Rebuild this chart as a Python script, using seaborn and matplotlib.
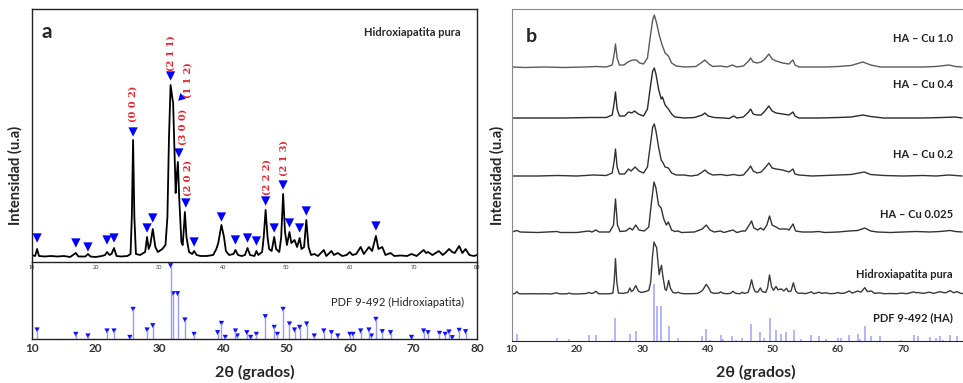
import matplotlib
matplotlib.use("Agg")
import matplotlib.pyplot as plt
import seaborn as sns

# patron DRX hidroxiapatita pura (2theta, intensidad)
ha_pts = [(10.0, 2), (10.5, 1), (10.8, 8), (11.1, 1), (12, 0.5), (13, 1), (14, 0.5), (15, 1), (16, 0),
          (16.9, 4), (17.3, 0.5), (18.4, 0.5), (18.8, 3), (19.2, 0.5), (20, 0), (21, 1), (21.5, 2),
          (21.8, 5), (22.2, 2), (22.5, 3), (22.9, 9), (23.3, 1), (24, 0.5), (25, 1), (25.5, 3),
          (25.7, 40), (25.9, 117), (26.1, 40), (26.35, 3), (27, 2), (27.8, 5), (28.1, 20), (28.35, 8),
          (28.6, 12), (29.0, 28), (29.4, 10), (29.8, 5), (30.5, 8), (31.0, 12), (31.3, 40), (31.55, 120),
          (31.8, 172), (32.05, 160), (32.2, 154), (32.45, 100), (32.6, 64), (32.75, 80), (32.95, 95),
          (33.15, 60), (33.5, 15), (33.7, 12), (33.85, 25), (34.05, 45), (34.3, 20), (34.7, 5), (35.2, 3),
          (35.5, 6), (35.9, 2), (36.5, 1), (37.5, 1), (38.5, 2), (39.0, 8), (39.3, 14), (39.8, 32),
          (40.2, 20), (40.5, 6), (41, 2), (41.7, 3), (42.0, 7), (42.4, 2), (43, 1), (43.5, 2), (43.9, 9),
          (44.3, 2), (45.0, 1), (45.3, 6), (45.6, 2), (46.2, 5), (46.45, 20), (46.75, 47), (47.05, 20),
          (47.3, 8), (47.7, 6), (48.1, 20), (48.4, 8), (48.9, 5), (49.2, 20), (49.5, 63), (49.8, 25),
          (50.1, 12), (50.5, 25), (50.8, 14), (51.3, 17), (51.7, 10), (52.1, 19), (52.4, 8), (52.8, 10),
          (53.15, 37), (53.5, 10), (53.9, 2), (54.4, 3), (55.0, 1), (55.9, 7), (56.3, 1), (57.1, 6),
          (57.5, 2), (58.1, 4), (58.8, 1), (59.5, 2), (60.0, 5), (60.4, 2), (61.0, 3), (61.7, 10),
          (62.2, 3), (63.0, 10), (63.5, 6), (64.1, 21), (64.5, 8), (65.1, 10), (65.6, 2), (66.4, 4),
          (67, 1), (68, 1.5), (69, 1), (69.7, 3), (70.5, 1), (71.6, 7), (72.0, 4), (72.3, 5), (73, 2),
          (74, 6), (74.6, 2), (75.0, 4), (75.6, 8), (76.1, 5), (76.5, 4), (77.2, 11), (77.7, 4),
          (78.2, 8), (78.8, 2), (79.5, 1), (80, 2)]

cu025_pts = [(10, 1), (10.8, 2.5), (11.3, 1), (14, 0.5), (16.9, 1.5), (17.5, 0.5), (20, 0.5), (21.8, 2),
             (22.3, 1), (22.9, 3), (23.4, 1), (25, 1), (25.6, 8), (25.9, 34), (26.2, 8), (26.6, 1.5),
             (27.5, 2), (28.1, 5), (28.5, 3), (29.0, 8), (29.5, 3), (30.3, 2), (31.0, 6), (31.4, 30),
             (31.8, 51), (32.1, 45), (32.5, 28), (32.9, 25), (33.3, 14), (33.7, 8), (34.0, 11), (34.5, 3),
             (35, 1.5), (35.5, 2), (36, 0.5), (38, 1), (39.2, 4), (39.8, 8), (40.4, 3), (41, 1), (42, 2),
             (42.5, 0.5), (43.9, 3), (44.5, 0.5), (45.3, 2), (45.8, 2), (46.4, 8), (46.75, 12), (47.1, 5),
             (47.7, 3), (48.1, 5), (48.6, 3), (49.1, 8), (49.5, 17), (49.9, 8), (50.5, 6), (51.0, 4),
             (51.3, 4), (51.8, 4), (52.1, 4), (52.5, 3), (53.1, 9), (53.5, 2), (54.5, 1), (56, 1),
             (57, 1.5), (58, 0.5), (60, 1), (61.7, 2), (63, 2.5), (64.1, 5), (65, 2), (66, 1), (68, 0.5),
             (70, 1), (72, 1.5), (74, 1), (75.6, 1.5), (77.2, 2.5), (78, 1.5), (79, 1)]

cu02_pts = [(10, 1), (14, 1), (17, 1.5), (20, 1), (22.5, 2), (24.5, 1.5), (25.4, 4), (25.7, 16), (25.9, 28),
            (26.15, 10), (26.5, 3), (27.3, 3), (27.9, 8), (28.3, 6), (28.9, 10), (29.5, 6), (30.2, 4),
            (30.8, 10), (31.2, 30), (31.6, 50), (31.85, 53), (32.1, 46), (32.5, 30), (32.9, 17), (33.2, 14),
            (33.5, 10), (34.0, 9), (34.5, 4), (35.2, 2), (36.3, 2), (37.5, 1), (38.5, 2), (39.2, 5),
            (39.6, 7), (40.1, 4), (40.8, 2), (42, 2.5), (43, 1.5), (44, 2.5), (44.8, 1.5), (45.5, 2),
            (46.3, 8), (46.6, 11), (47.0, 6), (47.6, 4), (48.2, 5), (48.8, 9), (49.4, 14), (49.9, 9),
            (50.5, 8), (51.5, 7), (52.5, 5), (52.9, 7), (53.1, 8), (53.4, 3), (54, 2), (56, 1), (58, 1.5),
            (60, 2), (62, 2.5), (64, 5), (65, 2.5), (67, 1.5), (70, 1), (73, 1.5), (75, 1), (77, 2), (79, 1)]

cu04_pts = [(10, 1), (14, 1), (18, 1), (22, 1.5), (24.5, 1.5), (25.4, 4), (25.7, 16), (25.9, 27), (26.15, 10),
            (26.5, 3), (27.3, 3), (27.9, 7), (28.4, 6), (28.8, 8), (29.4, 5), (30.2, 3), (30.8, 10),
            (31.2, 30), (31.6, 48), (31.85, 51), (32.1, 45), (32.5, 30), (32.9, 20), (33.1, 22), (33.5, 14),
            (34.0, 10), (34.5, 5), (35, 2), (36.5, 1), (38, 1.5), (39.2, 4), (39.6, 6), (40.1, 3), (41, 1.5),
            (42.5, 1), (43.3, 0.5), (44, 3), (44.5, 1), (45.5, 2), (46.3, 7), (46.6, 10), (47.0, 5),
            (47.6, 4), (48.2, 4), (48.8, 8), (49.4, 13), (49.9, 8), (50.5, 6), (51.5, 5), (52.5, 4),
            (52.9, 6), (53.1, 7), (53.4, 3), (54, 1), (57, 1), (60, 1.5), (62, 2), (63.8, 4), (65, 2.5),
            (67, 1), (70, 1), (73, 1), (76, 1.5), (78, 2), (79, 1)]

cu10_pts = [(10, 1), (12, 0.5), (15, 1), (18, 0.5), (21, 1), (23, 1.5), (24.5, 1), (25.4, 3), (25.7, 14),
            (25.9, 24), (26.15, 10), (26.5, 3), (27.2, 3), (27.8, 6), (28.5, 8), (29.1, 8), (29.6, 5),
            (30.2, 4), (30.8, 10), (31.2, 30), (31.6, 48), (31.85, 53), (32.2, 45), (32.6, 33), (33.0, 24),
            (33.5, 15), (34.0, 12), (34.5, 5), (35.2, 2), (36.5, 1), (38.2, 1.5), (39.0, 5), (39.6, 8),
            (40.2, 4), (40.8, 1.5), (42, 2), (43, 1), (43.8, 3), (44.5, 1), (45.5, 2), (46.3, 7), (46.6, 10),
            (47.0, 6), (47.6, 5), (48.2, 6), (48.8, 9), (49.4, 14), (49.9, 9), (50.5, 7), (51.5, 5),
            (52.5, 4), (52.9, 7), (53.1, 8), (53.4, 3), (54, 1), (56, 1), (58, 1), (60, 1.5), (62, 2.5),
            (63.8, 6), (65, 3), (66.5, 1), (68, 1), (70, 1), (73, 1), (75, 1.5), (77, 3), (78, 1.5), (79, 1)]

# PDF 9-492 lineas de referencia
pdf_pos = [10.8, 16.9, 18.8, 21.8, 22.9, 25.4, 25.9, 28.1, 29.0, 31.8, 32.2, 32.9, 34.05, 35.5, 39.2,
           39.8, 40.4, 42.0, 42.3, 43.8, 44.4, 45.3, 46.7, 48.1, 48.6, 49.5, 50.5, 51.3, 52.1, 53.2,
           54.4, 55.9, 57.1, 58.1, 60.0, 60.5, 61.7, 63.0, 63.4, 64.1, 65.1, 66.4, 69.7, 71.6, 72.3,
           74.1, 75.0, 75.6, 76.1, 77.2, 78.2]
pdf_int = [8.7, 4.3, 2.7, 7.7, 7.7, 1.3, 29.3, 8.7, 13, 73, 45, 45, 18.7, 4.3, 6, 15.3, 1.3, 7.7, 2.7, 6,
           1.3, 4.3, 22, 11.3, 4.3, 29.3, 14.7, 8.7, 11.3, 14.7, 2.7, 7.7, 6, 2.7, 4.3, 4.3, 7.7, 8.7,
           2.7, 19.3, 7, 6, 1.3, 7.7, 6, 5.3, 4.3, 6.7, 1, 8.3, 7]

# triangulos azules sobre los picos (panel a)
mark_x = [10.8, 16.9, 18.8, 21.8, 22.9, 25.9, 28.1, 29.0, 31.8, 33.1, 34.2, 35.5, 39.8, 42.0, 43.9,
          45.3, 46.75, 48.1, 49.5, 50.5, 52.1, 53.15, 64.1]
mark_y = [19, 14, 10, 17, 19, 125, 29, 39, 181, 104, 54, 15, 40, 17, 19, 16, 56, 29, 72, 34, 29, 46, 31]

hkl_text = ["(0 0 2)", "(2 1 1)", "(1 1 2)", "(3 0 0)", "(2 0 2)", "(2 2 2)", "(2 1 3)"]
hkl_x = [25.9, 31.85, 34.5, 33.7, 34.5, 46.9, 49.6]
hkl_y = [153, 204, 177, 130, 79, 80, 99]

b_labels = ["HA \u2013 Cu 1.0", "HA \u2013 Cu 0.4", "HA \u2013 Cu 0.2", "HA \u2013 Cu 0.025",
            "Hidroxiapatita pura", "PDF 9-492 (HA)"]

sns.set_style("white")
plt.rcParams['font.family'] = ['Lato', 'DejaVu Sans']

W, H = 963, 383
fig = plt.figure(figsize=(W / 100, H / 100), dpi=100)


def box(l, t, r, b):
    return [l / W, (H - b) / H, (r - l) / W, (b - t) / H]


ax2 = fig.add_axes(box(32, 262, 477, 338.7))
ax1 = fig.add_axes(box(32, 9, 477, 262))
ax3 = fig.add_axes(box(511.7, 9, 1000, 341))
ax1.patch.set_alpha(0)

ha_x = [p[0] for p in ha_pts]
ha_y = [p[1] for p in ha_pts]

# ---- panel a, arriba
sns.lineplot(x=ha_x, y=ha_y, ax=ax1, color='black', lw=1.3, sort=False)
sns.scatterplot(x=mark_x, y=mark_y, ax=ax1, marker='v', s=45, color='#0000ff', edgecolor='none')
ax1.scatter([33.45], [160], marker=(3, 0, 135), s=45, color='#0000ff', linewidths=0)
for t, x, y in zip(hkl_text, hkl_x, hkl_y):
    ax1.text(x, y, t, rotation=90, ha='center', va='center', color='#e8202a', fontsize=7,
             fontweight='bold', family='DejaVu Serif')
ax1.set_xlim(10, 80)
ax1.set_ylim(-5, 248)
ax1.set_yticks([])
ax1.set_xticks(range(10, 81, 10))
ax1.set_xticks(range(15, 80, 10), minor=True)
ax1.tick_params(axis='x', which='both', direction='in', length=2, labelsize=4, pad=2, colors='#333333')
ax1.text(11.5, 225, "a", fontsize=15, fontweight='bold', va='center')
ax1.text(77.4, 225, "Hidroxiapatita pura", fontsize=8, fontweight='bold', ha='right', va='center')

# ---- panel a, abajo (PDF)
ax2.vlines(pdf_pos, 0, pdf_int, color='#9a9aff', lw=1)
sns.scatterplot(x=pdf_pos, y=pdf_int, ax=ax2, marker='v', s=14, color='#1010ff', edgecolor='none')
ax2.set_xlim(10, 80)
ax2.set_ylim(0, 76.7)
ax2.set_yticks([])
ax2.set_xticks(range(10, 81, 10))
ax2.set_xticks(range(15, 80, 10), minor=True)
ax2.tick_params(axis='x', which='both', direction='in', length=3, labelsize=8.5, pad=3, colors='#333333')
for lab in ax2.get_xticklabels():
    lab.set_fontweight('bold')
ax2.spines['top'].set_visible(False)
ax2.text(77.9, 36.7, "PDF 9-492 (Hidroxiapatita)", fontsize=8, ha='right', va='center', color='#222222')
ax2.set_xlabel("2\u03b8 (grados)", fontsize=11.5, fontweight='bold', labelpad=8)

# ---- panel b
curves = [(cu10_pts, 273, '#5a5a5a'), (cu04_pts, 222, '#2a2a2a'), (cu02_pts, 164, '#333333'),
          (cu025_pts, 108, '#333333')]
for pts, off, col in curves:
    sns.lineplot(x=[p[0] for p in pts], y=[p[1] + off for p in pts], ax=ax3, color=col, lw=1, sort=False)
sns.lineplot(x=ha_x, y=[v * 0.302 + 47 for v in ha_y], ax=ax3, color='#3a3a3a', lw=1, sort=False)
ax3.vlines(pdf_pos, 0, [v * 0.78 for v in pdf_int], color='#b4b4ff', lw=1.4)
ax3.set_xlim(10, 10 + (1000 - 511.7) / 6.527)
ax3.set_ylim(0, 332)
ax3.set_yticks([])
ax3.set_xticks(range(10, 71, 10))
ax3.set_xticks(range(15, 80, 10), minor=True)
ax3.tick_params(axis='x', which='both', direction='in', length=3, labelsize=7.5, pad=3, colors='#333333')
for lab in ax3.get_xticklabels():
    lab.set_fontweight('bold')
ax3.spines['right'].set_visible(False)
for s in ['top', 'left']:
    ax3.spines[s].set_color('#888888')
ax3.text(12.2, 305, "b", fontsize=14, fontweight='bold', va='center')
for t, y in zip(b_labels, [303, 257, 186, 127, 66, 23]):
    ax3.text(77.6, y, t, fontsize=8, fontweight='bold', ha='right', va='center', color='#222222')
ax3.set_xlabel("2\u03b8 (grados)", fontsize=11.5, fontweight='bold', labelpad=8)

for ax in (ax1, ax2):
    for s in ax.spines.values():
        s.set_color('#222222')
        s.set_linewidth(1)

fig.text(15 / W, 1 - 175 / H, "Intensidad (u.a)", rotation=90, ha='center', va='center',
         fontsize=10.5, fontweight='bold')
fig.text(497.7 / W, 1 - 175 / H, "Intensidad (u.a)", rotation=90, ha='center', va='center',
         fontsize=10.5, fontweight='bold',
         bbox=dict(facecolor='white', edgecolor='none', pad=1))

fig.savefig("out.png", dpi=100)
